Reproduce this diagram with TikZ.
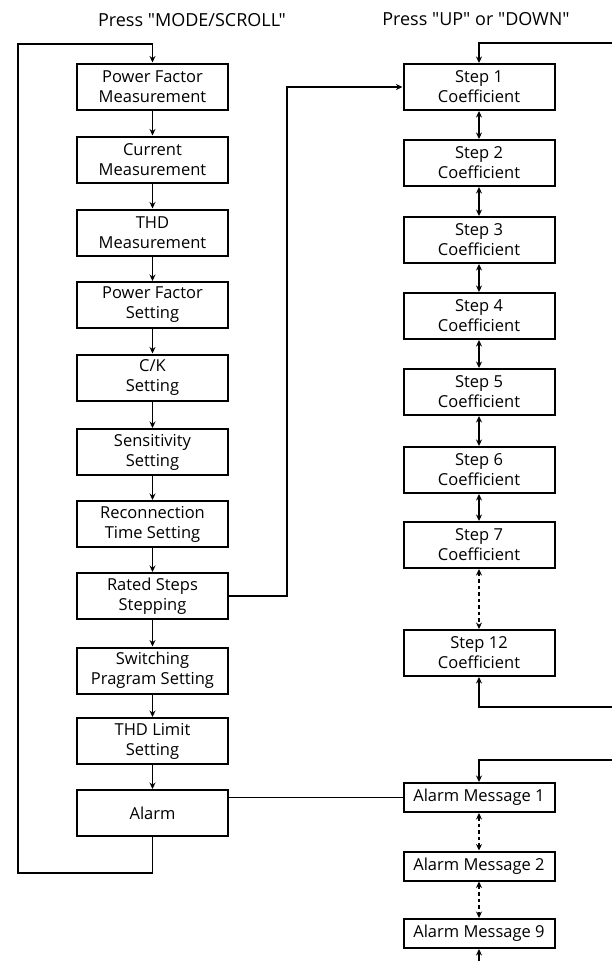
\documentclass[tikz,border=0pt]{standalone}
\usepackage{fontspec}
\setmainfont{Open Sans}[Ligatures=TeXOff]
\usetikzlibrary{arrows.meta}

\begin{document}
\begin{tikzpicture}[x=1pt,y=-1pt,
    >={Stealth[length=6.5pt,width=6pt]},
    menubox/.style={draw, line width=2pt, minimum width=151pt, minimum height=46pt, align=center, inner sep=1pt, font=\fontsize{16.5}{20}\selectfont},
    msgbox/.style={draw, line width=2pt, minimum width=151pt, minimum height=29pt, align=center, inner sep=1pt, font=\fontsize{16.5}{20}\selectfont},
    link/.style={line width=1.6pt},
    dotlink/.style={line width=1.6pt, dash pattern=on 3.5pt off 3pt}]
       \useasboundingbox (0,0) rectangle (612,961);
       \node[font=\fontsize{18}{20}\selectfont] (ttlmode) at (192,20) {Press "MODE/SCROLL"};
       \node[font=\fontsize{18}{20}\selectfont] (ttlupdn) at (476,19) {Press "UP" or "DOWN"};

       \node[menubox] (pfm) at (152.5,86.5) {Power Factor\\Measurement};
       \node[menubox] (curm) at (152.5,159.5) {Current\\Measurement};
       \node[menubox] (thdm) at (152.5,232.5) {THD\\Measurement};
       \node[menubox] (pfs) at (152.5,305) {Power Factor\\Setting};
       \node[menubox] (cks) at (152.5,377.5) {C/K\\Setting};
       \node[menubox] (sens) at (152.5,452) {Sensitivity\\Setting};
       \node[menubox] (rects) at (152.5,524) {Reconnection\\Time Setting};
       \node[menubox] (rated) at (152.5,596) {Rated Steps\\Stepping};
       \node[menubox] (swps) at (152.5,670.5) {Switching\\Pragram Setting};
       \node[menubox] (thdl) at (152.5,741) {THD Limit\\Setting};
       \node[menubox] (alarm) at (152.5,813) {Alarm};

       \node[menubox] (s1) at (479,87) {Step 1\\Coefficient};
       \node[menubox] (s2) at (479,163) {Step 2\\Coefficient};
       \node[menubox] (s3) at (479,240) {Step 3\\Coefficient};
       \node[menubox] (s4) at (479,316) {Step 4\\Coefficient};
       \node[menubox] (s5) at (479,392) {Step 5\\Coefficient};
       \node[menubox] (s6) at (479,470) {Step 6\\Coefficient};
       \node[menubox] (s7) at (479,545) {Step 7\\Coefficient};
       \node[menubox] (s12) at (479,653) {Step 12\\Coefficient};

       \node[msgbox] (am1) at (479,797.5) {Alarm Message 1};
       \node[msgbox] (am2) at (479,866) {Alarm Message 2};
       \node[msgbox] (am9) at (479,933.5) {Alarm Message 9};

       \draw[link, ->] (pfm) -- (curm);
       \draw[link, ->] (curm) -- (thdm);
       \draw[link, ->] (thdm) -- (pfs);
       \draw[link, ->] (pfs) -- (cks);
       \draw[link, ->] (cks) -- (sens);
       \draw[link, ->] (sens) -- (rects);
       \draw[link, ->] (rects) -- (rated);
       \draw[link, ->] (rated) -- (swps);
       \draw[link, ->] (swps) -- (thdl);
       \draw[link, ->] (thdl) -- (alarm);

       \coordinate (lbot) at (18,873);
       \coordinate (ltop) at (18,44);
       \draw[link, ->] (alarm.south) |- (lbot) -- (ltop) -| (pfm.north);

       \coordinate (rjog) at (287,596);
       \draw[link, ->] (rated.east) -- (rjog) |- (s1.west);

       \draw[link, <->] (s1) -- (s2);
       \draw[link, <->] (s2) -- (s3);
       \draw[link, <->] (s3) -- (s4);
       \draw[link, <->] (s4) -- (s5);
       \draw[link, <->] (s5) -- (s6);
       \draw[link, <->] (s6) -- (s7);
       \draw[dotlink, <->] (s7) -- (s12);

       \coordinate (steptop) at (612,43);
       \coordinate (stepbot) at (612,707);
       \draw[link, ->] (steptop) -| (s1.north);
       \draw[link, ->] (stepbot) -| (s12.south);

       \draw[line width=1pt] (alarm.east |- am1) -- (am1.west);
       \draw[dotlink, <->] (am1) -- (am2);
       \draw[dotlink, <->] (am2) -- (am9);

       \coordinate (msgtop) at (612,760);
       \coordinate (msgbot) at (479,961);
       \draw[link, ->] (msgtop) -| (am1.north);
       \draw[link, ->] (msgbot) -- (am9.south);
      \end{tikzpicture}
\end{document}
